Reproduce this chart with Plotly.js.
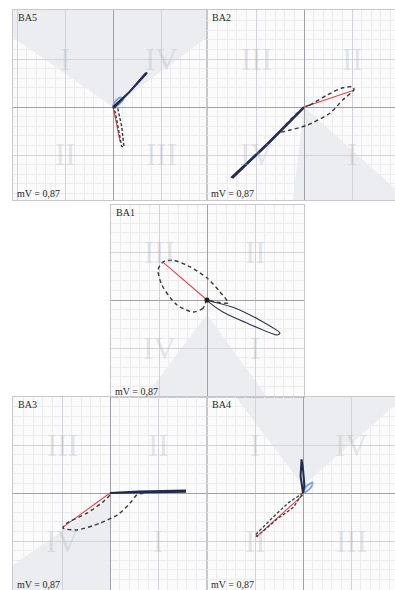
<!DOCTYPE html>
<html>
<head>
<meta charset="utf-8">
<script src="https://cdn.plot.ly/plotly-3.0.1.min.js"></script>
<style>html,body{margin:0;padding:0;background:#fff;}#chart{width:395px;height:590px;}</style>
</head>
<body>
<div id="chart"></div>
<script>
// ---------- DATA (units of mV grid) ----------
const panelNames = ['BA5', 'BA2', 'BA1', 'BA3', 'BA4'];
const scaleLabel = 'mV = 0,87';

// quadrant numerals: upper-left, upper-right, lower-left, lower-right
const numeralsBA5 = ['I', 'IV', 'II', 'III'];
const numeralsBA2 = ['III', 'II', 'IV', 'I'];
const numeralsBA1 = ['III', 'II', 'IV', 'I'];
const numeralsBA3 = ['III', 'II', 'IV', 'I'];
const numeralsBA4 = ['I', 'IV', 'II', 'III'];

// BA5
const ba5RedX = [0, 0.15];
const ba5RedY = [0, -0.73];
const ba5DashX = [0, 0.1, 0.18, 0.21, 0.23, 0.18, 0.11, 0.05, 0];
const ba5DashY = [0, -0.03, -0.4, -0.7, -0.83, -0.82, -0.45, -0.12, 0];
const ba5SolidX = [0, 0.35, 0.71, 0.68, 0.33, 0.02];
const ba5SolidY = [0, 0.32, 0.71, 0.7, 0.3, -0.01];
const ba5BlueX = [0, 0.05, 0.15, 0.22, 0.12, 0];
const ba5BlueY = [0, 0.12, 0.2, 0.17, 0.05, 0];

// BA2
const ba2RedX = [0, 1.04];
const ba2RedY = [0, 0.35];
const ba2DashX = [0, 0.12, 0.48, 0.81, 1.02, 1.04, 0.81, 0.54, 0.06, -0.29, -0.5, 0];
const ba2DashY = [0, 0.04, 0.25, 0.4, 0.42, 0.36, 0.15, -0.13, -0.38, -0.48, -0.52, 0];
const ba2SolidX = [0, -0.75, -1.5, -1.48, -0.74, -0.01];
const ba2SolidY = [0, -0.75, -1.46, -1.47, -0.76, -0.02];

// BA1
const ba1RedX = [0, -0.92];
const ba1RedY = [0, 0.79];
const ba1DashX = [0, -0.08, -0.29, -0.63, -0.94, -1.02, -0.92, -0.71, -0.35, 0, 0.27, 0.44, 0.17, 0];
const ba1DashY = [0, -0.17, -0.25, -0.1, 0.31, 0.63, 0.79, 0.83, 0.69, 0.46, 0.17, -0.06, -0.04, 0];
const ba1SolidX = [0, 0.06, 0.54, 1.1, 1.52, 1.46, 0.83, 0.33, 0.06, 0];
const ba1SolidY = [0, -0.02, -0.15, -0.42, -0.69, -0.73, -0.48, -0.25, -0.06, 0];
const ba1DotX = [0];
const ba1DotY = [0];

// BA3
const ba3RedX = [0, -0.98];
const ba3RedY = [0, -0.71];
const ba3DashX = [0, -0.15, -0.48, -0.9, -0.98, -0.69, -0.21, 0.15, 0.42, 0.56, 0.73];
const ba3DashY = [-0.04, -0.19, -0.42, -0.63, -0.73, -0.77, -0.63, -0.46, -0.21, -0.04, 0];
const ba3SolidX = [0, 0.6, 1.56, 1.56, 0.6, 0];
const ba3SolidY = [0, 0.03, 0.05, 0.03, 0.01, 0];

// BA4
const ba4RedX = [0, -0.98];
const ba4RedY = [-0.04, -0.92];
const ba4DashX = [0, -0.3, -0.6, -1.0, -0.95, -0.55, -0.2, 0];
const ba4DashY = [0, -0.2, -0.48, -0.88, -0.9, -0.55, -0.3, 0];
const ba4SolidX = [0, -0.05, -0.03, 0.0, 0.03, 0];
const ba4SolidY = [0, 0.35, 0.7, 0.5, 0.15, 0];
const ba4BlueX = [0, 0.08, 0.2, 0.17, 0.05, 0];
const ba4BlueY = [0, 0.15, 0.22, 0.12, 0.02, 0];

// ---------- LAYOUT (pixel boxes) ----------
const W = 395, H = 590, U = 48;
const boxes = [
  {l: 13, r: 207, t: 10, b: 200, cx: 113, cy: 107},
  {l: 207, r: 395, t: 10, b: 200, cx: 304, cy: 107},
  {l: 111, r: 304, t: 205, b: 397, cx: 207, cy: 300},
  {l: 13, r: 207, t: 397, b: 590, cx: 110, cy: 493},
  {l: 207, r: 395, t: 397, b: 590, cx: 303, cy: 493}
];
const numerals = [numeralsBA5, numeralsBA2, numeralsBA1, numeralsBA3, numeralsBA4];
const shadePaths = [
  'M -2.08,1.45 L 0,0 L 1.96,1.45 L 1.96,2.02 L -2.08,2.02 Z',
  'M 0,0 L 1.9,-1.7 L 1.9,-1.94 L -0.23,-1.94 Z',
  'M 0,-0.3 L -1.3,-2.02 L 1.25,-2.02 Z',
  'M 0,-0.1 L -2.02,-1.5 L -2.02,-2.02 L 0,-2.02 Z',
  'M -1.4,2.0 L 0,0.15 L 1.92,1.83 L 1.92,2.0 Z'
];

const layout = {
  width: W, height: H,
  margin: {l: 0, r: 0, t: 0, b: 0},
  paper_bgcolor: '#ffffff',
  plot_bgcolor: '#fbfbfc',
  showlegend: false,
  shapes: [],
  annotations: []
};

const traces = [];
const navy = '#1f2b4f';
const redC = '#e2464f';
const dashC = '#3a3a3a';

function sfx(i) { return i === 0 ? '' : String(i + 1); }

boxes.forEach((bx, i) => {
  const s = sfx(i);
  const xa = {
    domain: [bx.l / W, bx.r / W],
    range: [(bx.l - bx.cx) / U, (bx.r - bx.cx) / U],
    anchor: 'y' + s,
    tick0: 0, dtick: 1,
    showgrid: true, gridcolor: '#d2d2d8', gridwidth: 1,
    minor: {tick0: 0, dtick: 0.2, showgrid: true, gridcolor: '#ececef', gridwidth: 1},
    zeroline: true, zerolinecolor: '#a0a0a8', zerolinewidth: 1,
    showticklabels: false, ticks: '',
    showline: true, mirror: true, linecolor: '#c8c8cc', linewidth: 1,
    fixedrange: true
  };
  const ya = JSON.parse(JSON.stringify(xa));
  ya.domain = [1 - bx.b / H, 1 - bx.t / H];
  ya.range = [(bx.cy - bx.b) / U, (bx.cy - bx.t) / U];
  ya.anchor = 'x' + s;
  layout['xaxis' + s] = xa;
  layout['yaxis' + s] = ya;

  layout.shapes.push({
    type: 'path', xref: 'x' + s, yref: 'y' + s, path: shadePaths[i],
    fillcolor: 'rgba(160,170,188,0.17)', line: {width: 0}, layer: 'below'
  });

  const q = numerals[i];
  const pos = [[-1, 0.98], [1, 0.98], [-1, -1.0], [1, -1.0]];
  q.forEach((t, k) => {
    layout.annotations.push({
      xref: 'x' + s, yref: 'y' + s, x: pos[k][0], y: pos[k][1],
      text: t, showarrow: false,
      font: {family: 'Liberation Serif, serif', size: 31, color: 'rgba(175,178,190,0.32)'}
    });
  });

  layout.annotations.push({
    xref: 'paper', yref: 'paper', x: (bx.l + 3) / W, y: 1 - (bx.t + 8) / H,
    xanchor: 'left', yanchor: 'middle', text: panelNames[i], showarrow: false,
    font: {family: 'Liberation Serif, serif', size: 10, color: '#2a2a2a'}
  });
  layout.annotations.push({
    xref: 'paper', yref: 'paper', x: (bx.l + 2) / W, y: 1 - (bx.b - 6) / H,
    xanchor: 'left', yanchor: 'middle', text: scaleLabel, showarrow: false,
    font: {family: 'Liberation Serif, serif', size: 10, color: '#2a2a2a'}
  });
});

function add(i, x, y, color, width, dash, smooth) {
  const s = sfx(i);
  const line = {color: color, width: width, dash: dash || 'solid'};
  if (smooth) { line.shape = 'spline'; line.smoothing = 0.7; }
  traces.push({
    type: 'scatter', mode: 'lines', x: x, y: y,
    xaxis: 'x' + s, yaxis: 'y' + s, line: line, hoverinfo: 'skip'
  });
}

// BA5
add(0, ba5BlueX, ba5BlueY, '#86a9d4', 2, null, true);
add(0, ba5SolidX, ba5SolidY, navy, 2);
add(0, ba5RedX, ba5RedY, redC, 1.1);
add(0, ba5DashX, ba5DashY, dashC, 1.4, '3px,2px');
// BA2
add(1, ba2SolidX, ba2SolidY, navy, 2);
add(1, ba2RedX, ba2RedY, redC, 1.1);
add(1, ba2DashX, ba2DashY, dashC, 1.4, '4px,3px', true);
// BA1
add(2, ba1SolidX, ba1SolidY, '#2e3448', 1.1, null, true);
add(2, ba1RedX, ba1RedY, redC, 1.1);
add(2, ba1DashX, ba1DashY, dashC, 1.4, '4px,3px', true);
traces.push({
  type: 'scatter', mode: 'markers', x: ba1DotX, y: ba1DotY,
  xaxis: 'x3', yaxis: 'y3', marker: {color: '#1a1a1a', size: 5}, hoverinfo: 'skip'
});
// BA3
add(3, ba3SolidX, ba3SolidY, navy, 2.2);
add(3, ba3RedX, ba3RedY, redC, 1.1);
add(3, ba3DashX, ba3DashY, dashC, 1.4, '4px,3px', true);
// BA4
add(4, ba4BlueX, ba4BlueY, '#86a9d4', 2, null, true);
add(4, ba4SolidX, ba4SolidY, navy, 2);
add(4, ba4RedX, ba4RedY, redC, 1.1);
add(4, ba4DashX, ba4DashY, dashC, 1.3, '3px,2px');

Plotly.newPlot('chart', traces, layout, {staticPlot: true, displayModeBar: false});
</script>
</body>
</html>
